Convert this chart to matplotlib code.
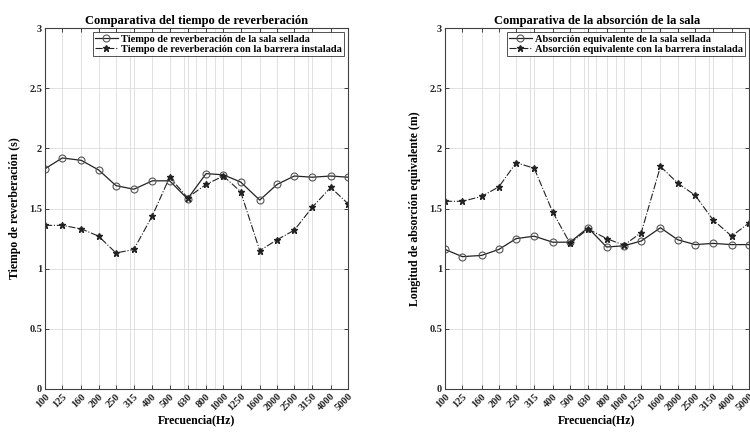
import matplotlib.pyplot as plt
import matplotlib.ticker as mticker

plt.rcParams['font.family'] = ['Liberation Serif', 'DejaVu Serif']
plt.rcParams['font.weight'] = 'bold'

freqs = [100, 125, 160, 200, 250, 315, 400, 500, 630, 800,
         1000, 1250, 1600, 2000, 2500, 3150, 4000, 5000]
freq_labels = [str(f) for f in freqs]

tr_sellada = [1.83, 1.92, 1.90, 1.82, 1.69, 1.66, 1.73, 1.73, 1.58, 1.79,
              1.78, 1.72, 1.57, 1.70, 1.77, 1.76, 1.77, 1.76]
tr_barrera = [1.36, 1.36, 1.33, 1.27, 1.13, 1.16, 1.44, 1.76, 1.59, 1.70,
              1.77, 1.64, 1.15, 1.24, 1.32, 1.51, 1.675, 1.54]

abs_sellada = [1.16, 1.10, 1.11, 1.16, 1.25, 1.27, 1.22, 1.22, 1.34, 1.18,
               1.19, 1.23, 1.34, 1.24, 1.20, 1.21, 1.20, 1.20]
abs_barrera = [1.56, 1.56, 1.60, 1.68, 1.88, 1.835, 1.47, 1.21, 1.33, 1.25,
               1.195, 1.30, 1.85, 1.71, 1.61, 1.405, 1.27, 1.38]

minor_grid = [200, 300, 400, 500, 600, 700, 800, 900,
              2000, 3000, 4000]


def style_axes(ax, title, ylabel):
    ax.set_xscale('log')
    ax.set_xlim(100, 5000)
    ax.set_ylim(0, 3)
    ax.xaxis.set_major_locator(mticker.FixedLocator(freqs))
    ax.xaxis.set_major_formatter(mticker.FixedFormatter(freq_labels))
    ax.xaxis.set_minor_locator(mticker.FixedLocator(minor_grid))
    ax.xaxis.set_minor_formatter(mticker.NullFormatter())
    ax.set_yticks([0, 0.5, 1, 1.5, 2, 2.5, 3])
    ax.set_yticklabels(['0', '0.5', '1', '1.5', '2', '2.5', '3'])
    ax.grid(True, which='major', color='#dcdcdc', linewidth=0.6)
    ax.grid(True, which='minor', axis='x', color='#dcdcdc', linewidth=0.6)
    ax.tick_params(which='major', direction='in', length=3, width=0.6,
                   top=True, right=True, labelsize=7.5, colors='#262626', pad=2)
    ax.tick_params(which='minor', length=0)
    for lbl in ax.get_xticklabels():
        lbl.set_rotation(45)
        lbl.set_ha('right')
        lbl.set_rotation_mode('anchor')
        lbl.set_fontweight('bold')
    for lbl in ax.get_yticklabels():
        lbl.set_fontweight('bold')
    for sp in ax.spines.values():
        sp.set_color('#404040')
        sp.set_linewidth(0.8)
    ax.set_title(title, fontsize=9, fontweight='bold', pad=3)
    ax.set_xlabel('Frecuencia(Hz)', fontsize=8.5, fontweight='bold', labelpad=1)
    ax.set_ylabel(ylabel, fontsize=8.5, fontweight='bold', labelpad=6)


fig = plt.figure(figsize=(7.5, 4.32), dpi=100)
ax1 = fig.add_axes([45 / 750, 1 - 389 / 432, 303 / 750, 361 / 432])
ax2 = fig.add_axes([445 / 750, 1 - 389 / 432, 304 / 750, 361 / 432])

ax1.plot(freqs, tr_sellada, '-o', color='#222222', linewidth=0.9,
         markersize=5, markerfacecolor='none', markeredgecolor='#555555',
         markeredgewidth=0.8, label='Tiempo de reverberación de la sala sellada')
ax1.plot(freqs, tr_barrera, '-.', marker='*', color='#222222', linewidth=0.8,
         markersize=4.5, label='Tiempo de reverberación con la barrera instalada')
style_axes(ax1, 'Comparativa del tiempo de reverberación',
           'Tiempo de reverberación (s)')
leg1 = ax1.legend(loc='upper right', fontsize=7.5, frameon=True, fancybox=False,
                  edgecolor='#262626', borderpad=0.2, labelspacing=0.1,
                  handlelength=2.2, handletextpad=0.3, borderaxespad=0.4)
leg1.get_frame().set_linewidth(0.7)
for t in leg1.get_texts():
    t.set_fontweight('bold')

ax2.plot(freqs, abs_sellada, '-o', color='#222222', linewidth=0.9,
         markersize=5, markerfacecolor='none', markeredgecolor='#555555',
         markeredgewidth=0.8, label='Absorción equivalente de la sala sellada')
ax2.plot(freqs, abs_barrera, '-.', marker='*', color='#222222', linewidth=0.8,
         markersize=4.5, label='Absorción equivalente con la barrera instalada')
style_axes(ax2, 'Comparativa de la absorción de la sala',
           'Longitud de absorción equivalente (m)')
leg2 = ax2.legend(loc='upper right', fontsize=7.5, frameon=True, fancybox=False,
                  edgecolor='#262626', borderpad=0.2, labelspacing=0.1,
                  handlelength=2.2, handletextpad=0.3, borderaxespad=0.4)
leg2.get_frame().set_linewidth(0.7)
for t in leg2.get_texts():
    t.set_fontweight('bold')

fig.savefig('out.png', dpi=100)
